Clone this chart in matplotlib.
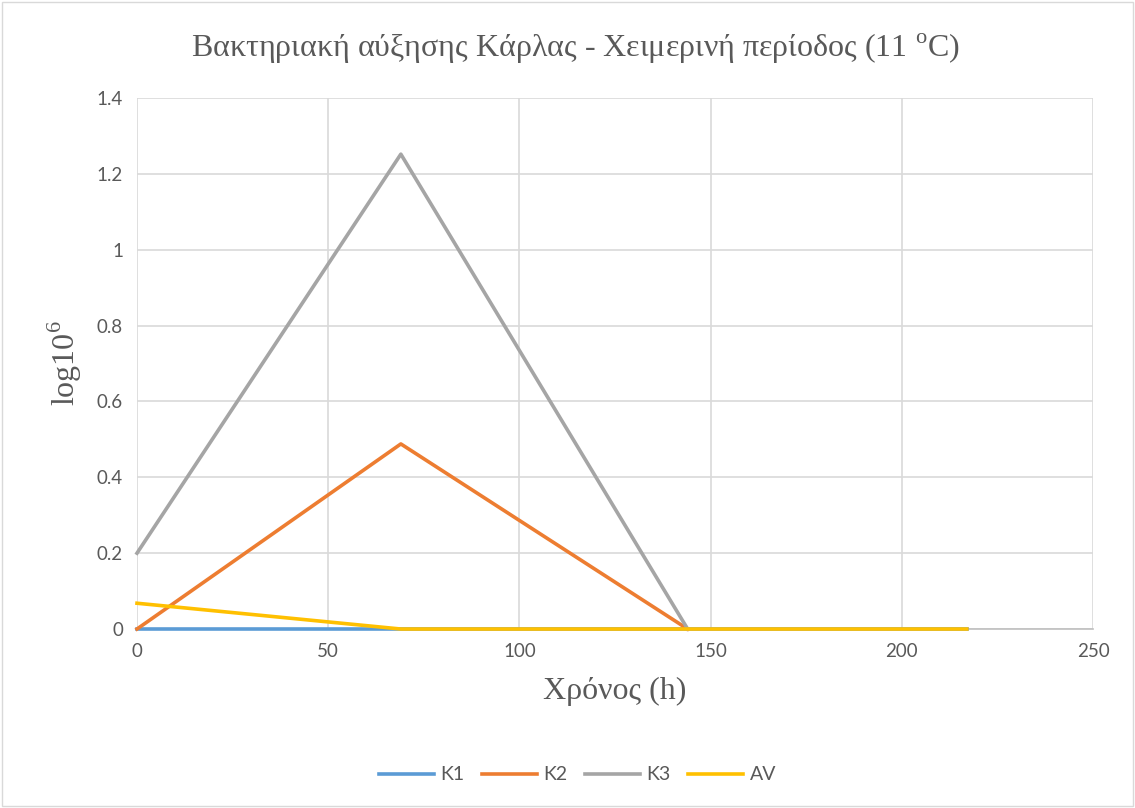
import matplotlib
matplotlib.use("Agg")
import matplotlib.pyplot as plt
from matplotlib.patches import Rectangle

# sampling times (h) and log counts per station
time_h = [0, 69, 144, 217]
k1 = [0, 0, 0, 0]
k2 = [0, 0.488, 0]
k3 = [0.2, 1.252, 0]
av = [0.068, 0, 0, 0]

colors = {"K1": "#5B9BD5", "K2": "#ED7D31", "K3": "#A5A5A5", "AV": "#FFC000"}

plt.rcParams["mathtext.fontset"] = "custom"
plt.rcParams["mathtext.rm"] = "Liberation Serif"
plt.rcParams["font.family"] = "Lato"

fig = plt.figure(figsize=(11.35, 8.08), dpi=100)
ax = fig.add_axes([0.1207, 0.2215, 0.8423, 0.6572])

ax.plot(time_h, k1, color=colors["K1"], lw=2.6, label="K1", clip_on=False, zorder=3)
ax.plot(time_h[:3], k2, color=colors["K2"], lw=2.6, label="K2", clip_on=False, zorder=3)
ax.plot(time_h[:3], k3, color=colors["K3"], lw=2.6, label="K3", clip_on=False, zorder=3)
ax.plot(time_h, av, color=colors["AV"], lw=2.6, label="AV", clip_on=False, zorder=3)

ax.set_xlim(0, 250)
ax.set_ylim(0, 1.4)
ax.set_xticks([0, 50, 100, 150, 200, 250])
ax.set_yticks([0, 0.2, 0.4, 0.6, 0.8, 1, 1.2, 1.4])
ax.set_yticklabels(["0", "0.2", "0.4", "0.6", "0.8", "1", "1.2", "1.4"])
ax.grid(True, color="#D9D9D9", lw=1.2)
ax.set_axisbelow(True)
for s in ["top", "right", "left"]:
    ax.spines[s].set_visible(False)
ax.spines["bottom"].set_color("#BFBFBF")
ax.spines["bottom"].set_linewidth(1.2)
ax.spines["bottom"].set_zorder(1)
ax.tick_params(length=0, labelsize=13.5, labelcolor="#595959", pad=10)

fig.text(0.5066, 0.94, "Βακτηριακή αύξησης Κάρλας - Χειμερινή περίοδος (11 $^{\\mathrm{o}}$C)",
         fontsize=23, family="Liberation Serif", color="#595959", ha="center", va="center")
ax.set_xlabel("Χρόνος (h)", fontsize=23, family="Liberation Serif", color="#595959", labelpad=12)
ax.set_ylabel("log10$^{\\mathrm{6}}$", fontsize=23, family="Liberation Serif", color="#595959", labelpad=9)

# legend sits centred under the whole figure, not just the plot area
fig.legend(loc="center", bbox_to_anchor=(0.509, 0.041), ncol=4, frameon=False,
           fontsize=14, labelcolor="#595959", handlelength=2.8, columnspacing=0.9, handletextpad=0.35)

fig.patches.append(Rectangle((0.002, 0.002), 0.996, 0.996, transform=fig.transFigure,
                             fill=False, edgecolor="#D9D9D9", lw=1))

fig.savefig("out.png", dpi=100)
